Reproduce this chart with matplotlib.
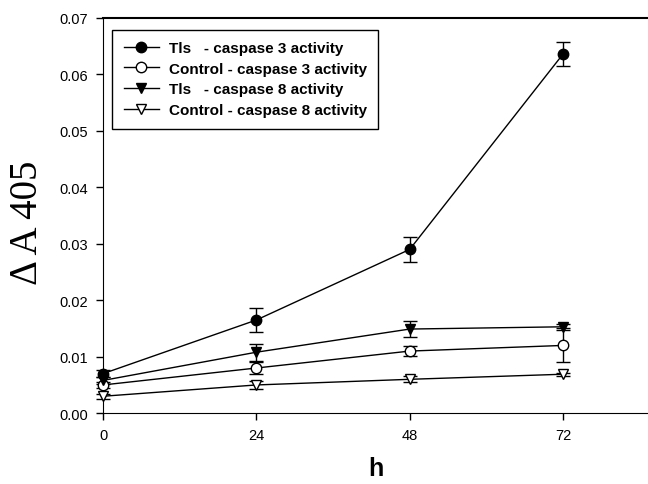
import matplotlib
matplotlib.use("Agg")
import matplotlib.pyplot as plt
from matplotlib.lines import Line2D
from matplotlib.ticker import FormatStrFormatter

plt.rcParams["font.family"] = ["Liberation Sans", "DejaVu Sans"]

# Data
hours = [0, 24, 48, 72]
tls_c3 = [0.0070, 0.0165, 0.0290, 0.0636]
tls_c3_err = [0.0006, 0.0021, 0.0022, 0.0021]
ctl_c3 = [0.0050, 0.0080, 0.0110, 0.0120]
ctl_c3_err = [0.0005, 0.0010, 0.0009, 0.0030]
tls_c8 = [0.0058, 0.0108, 0.0149, 0.0153]
tls_c8_err = [0.0006, 0.0015, 0.0014, 0.0005]
ctl_c8 = [0.0030, 0.0050, 0.0060, 0.0069]
ctl_c8_err = [0.0004, 0.0007, 0.0005, 0.0003]

series = [
    ("Tls   - caspase 3 activity", tls_c3, tls_c3_err, "o", "black"),
    ("Control - caspase 3 activity", ctl_c3, ctl_c3_err, "o", "white"),
    ("Tls   - caspase 8 activity", tls_c8, tls_c8_err, "v", "black"),
    ("Control - caspase 8 activity", ctl_c8, ctl_c8_err, "v", "white"),
]

fig = plt.figure(figsize=(6.48, 4.85), dpi=100)
ax = fig.add_axes([0.159, 0.146, 0.841, 0.815])

handles = []
for label, vals, err, mk, fc in series:
    ms = 7.5 if mk == "o" else 6.5
    ax.errorbar(hours, vals, yerr=err, marker=mk, markersize=ms,
                markerfacecolor=fc, markeredgecolor="black", color="black",
                linewidth=1, elinewidth=1, capsize=5, capthick=1,
                clip_on=False, zorder=3)
    handles.append(Line2D([], [], marker=mk, markersize=ms, markerfacecolor=fc,
                          markeredgecolor="black", color="black", linewidth=1,
                          label=label))

ax.set_xlim(0, 85.3)
ax.set_ylim(0, 0.07)
ax.set_xticks(hours)
ax.set_yticks([0, 0.01, 0.02, 0.03, 0.04, 0.05, 0.06, 0.07])
ax.yaxis.set_major_formatter(FormatStrFormatter("%.2f"))
ax.tick_params(direction="out", length=5, width=1, labelsize=10.5, pad=6)
ax.spines["right"].set_visible(False)
ax.spines["top"].set_linewidth(1.5)

ax.set_xlabel("h", fontsize=18, fontweight="bold", labelpad=10)
ax.set_ylabel("\u0394 A 405", fontsize=28, family=["Liberation Serif", "DejaVu Serif"])
ax.yaxis.set_label_coords(-0.105, 0.484)

leg = ax.legend(handles=handles, loc="upper left", bbox_to_anchor=(0.003, 0.99),
                fancybox=False, edgecolor="black", framealpha=1, borderpad=0.75,
                labelspacing=0.44, handlelength=2.3, handletextpad=0.65,
                prop={"weight": "bold", "size": 11})
leg.get_frame().set_linewidth(1)

fig.savefig("out.png", dpi=100)
